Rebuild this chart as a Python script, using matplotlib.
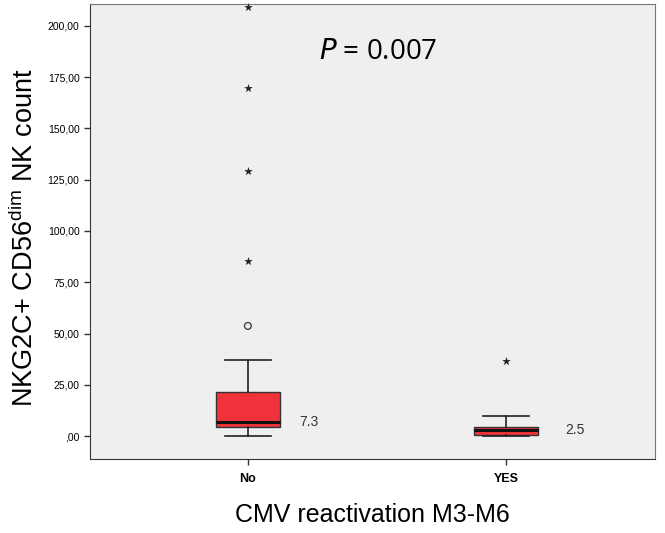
import matplotlib
matplotlib.use('Agg')
from matplotlib import pyplot as plt

groups = ['No', 'YES']
positions = [1, 2]
q1 = [4.4, 0.6]
medians = [6.8, 2.9]
q3 = [21.5, 4.4]
whis_lo = [0.0, 0.0]
whis_hi = [37.0, 9.8]
median_labels = ['7.3', '2.5']
# outliers: circles (mild) and stars (extreme)
mild_out = [[53.7], []]
extreme_out = [[85.4, 129.3, 169.8, 209.0], [36.6]]
y_ticks = [0, 25, 50, 75, 100, 125, 150, 175, 200]
y_tick_labels = [',00', '25,00', '50,00', '75,00', '100,00', '125,00', '150,00', '175,00', '200,00']

plt.rcParams['font.family'] = ['Liberation Sans', 'DejaVu Sans']

fig = plt.figure(figsize=(6.65, 5.33), dpi=100)
ax = fig.add_axes([0.1353, 0.1388, 0.985 - 0.1353, 0.9925 - 0.1388])
ax.set_facecolor('#efefef')

stats = []
for i in range(len(groups)):
    stats.append({'med': medians[i], 'q1': q1[i], 'q3': q3[i],
                  'whislo': whis_lo[i], 'whishi': whis_hi[i], 'fliers': []})

ax.bxp(stats, positions=positions, widths=0.25, patch_artist=True, showfliers=False,
       boxprops=dict(facecolor='#f0333a', edgecolor='#333333', linewidth=1.0),
       medianprops=dict(color='#111111', linewidth=2.2),
       whiskerprops=dict(color='#222222', linewidth=1.2),
       capprops=dict(color='#222222', linewidth=1.2),
       capwidths=0.18)

for i, p in enumerate(positions):
    if mild_out[i]:
        ax.scatter([p] * len(mild_out[i]), mild_out[i], marker='o', s=24,
                   facecolor='none', edgecolor='#444444', linewidth=1.0, zorder=3)
    if extreme_out[i]:
        ax.scatter([p] * len(extreme_out[i]), extreme_out[i], marker='*', s=42,
                   color='#222222', linewidth=0, zorder=3, clip_on=False)
    ax.text(p + 0.2 + 0.03 * i, medians[i], median_labels[i], fontsize=10, color='#333333',
            va='center', ha='left')

ax.text(0.405, 0.895, r'$\it{P}$ = 0.007', transform=ax.transAxes, fontsize=20,
        family=['Open Sans', 'DejaVu Sans'], ha='left', va='center')

ax.set_xlim(0.388, 2.578)
ax.set_ylim(-11.2, 210.7)
ax.set_xticks(positions)
ax.set_xticklabels(groups, fontsize=9, fontweight='bold')
ax.set_yticks(y_ticks)
ax.set_yticklabels(y_tick_labels, fontsize=7.5)
ax.tick_params(axis='both', length=4, width=1, color='#333333')
ax.tick_params(axis='x', pad=6)
for s in ax.spines.values():
    s.set_color('#777777')
ax.spines['bottom'].set_color('#333333')
ax.spines['left'].set_color('#333333')

ax.set_xlabel('CMV reactivation M3-M6', fontsize=18, labelpad=13)
ax.set_ylabel(r'NKG2C+ CD56$^{\mathregular{dim}}$ NK count', fontsize=19.5)
ax.yaxis.set_label_coords(-0.09, 0.487)

fig.savefig('out.png', dpi=100, facecolor='white')
